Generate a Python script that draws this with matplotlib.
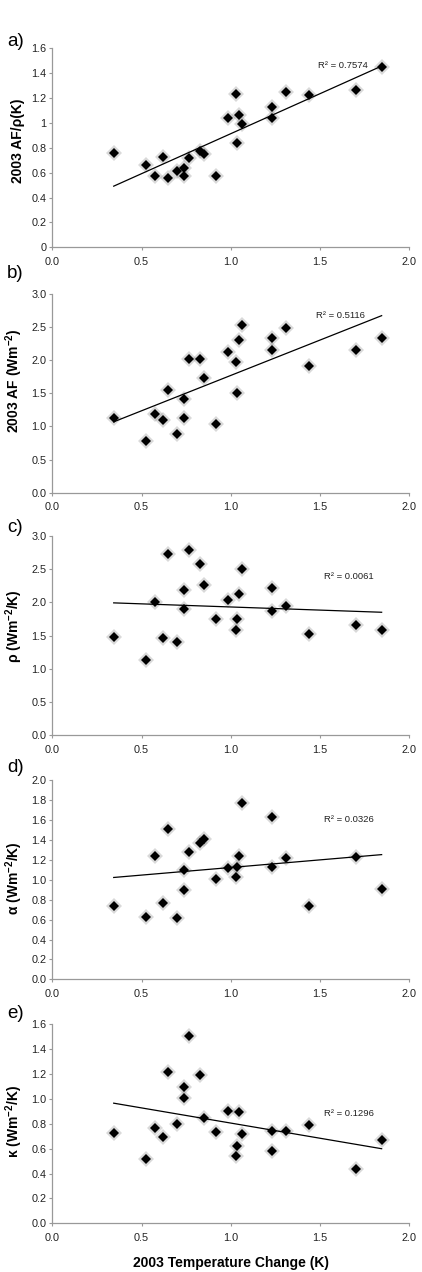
import matplotlib
matplotlib.use('Agg')
import matplotlib.pyplot as plt
import numpy as np

plt.rcParams['font.family'] = ['Liberation Sans', 'DejaVu Sans']
plt.rcParams['mathtext.fontset'] = 'custom'
plt.rcParams['mathtext.rm'] = 'Liberation Sans'
plt.rcParams['mathtext.bf'] = 'Liberation Sans:bold'
plt.rcParams['mathtext.default'] = 'bf'

# ---------------- data ----------------
temp_change = [0.344, 0.525, 0.577, 0.618, 0.646, 0.697, 0.738, 0.738, 0.764, 0.827, 0.848, 0.917,
               0.986, 1.027, 1.033, 1.044, 1.063, 1.232, 1.232, 1.307, 1.436, 1.703, 1.845]
af_over_rho = [0.761, 0.665, 0.576, 0.729, 0.557, 0.614, 0.638, 0.576, 0.716, 0.775, 0.753, 0.576,
               1.037, 1.233, 0.839, 1.067, 0.994, 1.128, 1.037, 1.252, 1.222, 1.265, 1.453]
af = [1.133, 0.775, 1.188, 1.092, 1.550, 0.891, 1.419, 1.128, 2.023, 2.018, 1.736, 1.032,
      2.124, 1.973, 1.500, 2.300, 2.522, 2.336, 2.144, 2.487, 1.903, 2.144, 2.336]
rho = [1.472, 1.134, 2.007, 1.457, 2.733, 1.407, 2.193, 1.906, 2.793, 2.571, 2.264, 1.745,
       2.032, 1.578, 1.745, 2.133, 2.501, 2.218, 1.871, 1.951, 1.518, 1.664, 1.578]
alpha = [0.736, 0.625, 1.237, 0.769, 1.512, 0.619, 1.097, 0.900, 1.278, 1.365, 1.415, 1.010,
         1.120, 1.027, 1.130, 1.237, 1.776, 1.632, 1.127, 1.224, 0.736, 1.234, 0.910]
kappa = [0.729, 0.517, 0.769, 0.694, 1.217, 0.796, 1.094, 1.010, 1.504, 1.193, 0.850, 0.737,
         0.906, 0.541, 0.619, 0.893, 0.718, 0.742, 0.579, 0.742, 0.788, 0.437, 0.667]

panel_letters = ['a)', 'b)', 'c)', 'd)', 'e)']
y_labels = ['2003 AF/ρ(K)', '2003 AF (Wm$^{-2}$)', 'ρ (Wm$^{-2}$/K)',
            'α (Wm$^{-2}$/K)', 'κ (Wm$^{-2}$/K)']
r2_texts = ['R² = 0.7574', 'R² = 0.5116', 'R² = 0.0061', 'R² = 0.0326', 'R² = 0.1296']
series = [af_over_rho, af, rho, alpha, kappa]

y_ticks = [
    [0, 0.2, 0.4, 0.6, 0.8, 1.0, 1.2, 1.4, 1.6],
    [0, 0.5, 1.0, 1.5, 2.0, 2.5, 3.0],
    [0, 0.5, 1.0, 1.5, 2.0, 2.5, 3.0],
    [0, 0.2, 0.4, 0.6, 0.8, 1.0, 1.2, 1.4, 1.6, 1.8, 2.0],
    [0, 0.2, 0.4, 0.6, 0.8, 1.0, 1.2, 1.4, 1.6],
]
y_tick_labels = [
    ['0', '0.2', '0.4', '0.6', '0.8', '1', '1.2', '1.4', '1.6'],
    ['0.0', '0.5', '1.0', '1.5', '2.0', '2.5', '3.0'],
    ['0.0', '0.5', '1.0', '1.5', '2.0', '2.5', '3.0'],
    ['0.0', '0.2', '0.4', '0.6', '0.8', '1.0', '1.2', '1.4', '1.6', '1.8', '2.0'],
    ['0.0', '0.2', '0.4', '0.6', '0.8', '1.0', '1.2', '1.4', '1.6'],
]
x_ticks = [0.0, 0.5, 1.0, 1.5, 2.0]
x_tick_labels = ['0.0', '0.5', '1.0', '1.5', '2.0']

# ---------------- layout ----------------
W, H = 422, 1272
fig = plt.figure(figsize=(W / 100, H / 100), dpi=100)

ax_left_px, ax_right_px = 52.3, 409.3
ax_bottoms_px = [247.3, 492.7, 735.0, 979.3, 1223.3]
ax_h_px = 199.0
letter_y_px = [42, 273, 528, 768, 1013]
ylabel_ypos = [0.534, 0.562, 0.547, 0.508, 0.51]
r2_pos = [(1.488, 1.46), (1.475, 2.668), (1.524, 2.386), (1.524, 1.609), (1.524, 0.884)]

spine_col = '#999999'
x = np.array(temp_change)

for i in range(5):
    b = ax_bottoms_px[i]
    ax = fig.add_axes([ax_left_px / W, 1 - b / H, (ax_right_px - ax_left_px) / W, ax_h_px / H])
    y = np.array(series[i])

    # soft halo + diamond markers
    ax.plot(x, y, linestyle='none', marker='D', ms=8, color='#555555', alpha=0.22,
            markeredgewidth=0, zorder=2)
    ax.plot(x, y, linestyle='none', marker='D', ms=5.4, color='black',
            markeredgewidth=0, zorder=3)

    # linear trendline
    k, c0 = np.polyfit(x, y, 1)
    xs = np.array([x.min(), x.max()])
    ax.plot(xs, k * xs + c0, color='black', lw=0.9, zorder=4)

    ax.text(r2_pos[i][0], r2_pos[i][1], r2_texts[i], fontsize=6.8, va='center', ha='left',
            color='#222222', zorder=5)

    ax.set_xlim(0, 2.0)
    ax.set_ylim(y_ticks[i][0], y_ticks[i][-1])
    ax.set_xticks(x_ticks)
    ax.set_xticklabels(x_tick_labels)
    ax.set_yticks(y_ticks[i])
    ax.set_yticklabels(y_tick_labels[i])

    for s in ['top', 'right']:
        ax.spines[s].set_visible(False)
    for s in ['left', 'bottom']:
        ax.spines[s].set_color(spine_col)
        ax.spines[s].set_linewidth(0.9)
    ax.tick_params(axis='both', direction='out', length=2.5, width=0.8, color=spine_col,
                   labelsize=7.8, labelcolor='#222222')
    ax.tick_params(axis='y', pad=1.6)
    ax.tick_params(axis='x', pad=4.5)

    ax.set_ylabel(y_labels[i], fontsize=10, fontweight='bold')
    ax.yaxis.set_label_coords(-0.077, ylabel_ypos[i])

    fig.text(7 / W, 1 - letter_y_px[i] / H, panel_letters[i], fontsize=13.5,
             ha='left', va='center')

    if i == 4:
        ax.set_xlabel('2003 Temperature Change (K)', fontsize=10, fontweight='bold',
                      labelpad=9)

fig.savefig('out.png', dpi=100)
